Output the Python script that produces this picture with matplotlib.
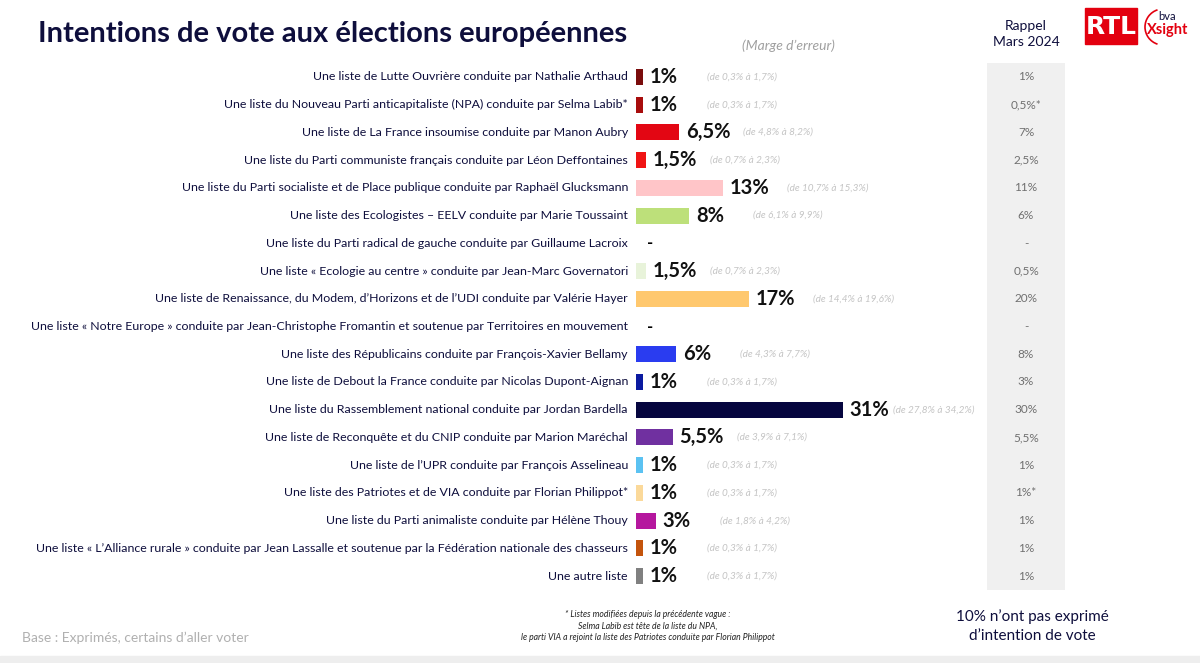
import matplotlib.pyplot as plt
from matplotlib.patches import Rectangle, Arc

plt.rcParams['font.family'] = ['Lato', 'DejaVu Sans']

labels = [
    "Une liste de Lutte Ouvrière conduite par Nathalie Arthaud",
    "Une liste du Nouveau Parti anticapitaliste (NPA) conduite par Selma Labib*",
    "Une liste de La France insoumise conduite par Manon Aubry",
    "Une liste du Parti communiste français conduite par Léon Deffontaines",
    "Une liste du Parti socialiste et de Place publique conduite par Raphaël Glucksmann",
    "Une liste des Ecologistes – EELV conduite par Marie Toussaint",
    "Une liste du Parti radical de gauche conduite par Guillaume Lacroix",
    "Une liste « Ecologie au centre » conduite par Jean-Marc Governatori",
    "Une liste de Renaissance, du Modem, d’Horizons et de l’UDI conduite par Valérie Hayer",
    "Une liste « Notre Europe » conduite par Jean-Christophe Fromantin et soutenue par Territoires en mouvement",
    "Une liste des Républicains conduite par François-Xavier Bellamy",
    "Une liste de Debout la France conduite par Nicolas Dupont-Aignan",
    "Une liste du Rassemblement national conduite par Jordan Bardella",
    "Une liste de Reconquête et du CNIP conduite par Marion Maréchal",
    "Une liste de l’UPR conduite par François Asselineau",
    "Une liste des Patriotes et de VIA conduite par Florian Philippot*",
    "Une liste du Parti animaliste conduite par Hélène Thouy",
    "Une liste « L’Alliance rurale » conduite par Jean Lassalle et soutenue par la Fédération nationale des chasseurs",
    "Une autre liste",
]
values = [1, 1, 6.5, 1.5, 13, 8, None, 1.5, 17, None, 6, 1, 31, 5.5, 1, 1, 3, 1, 1]
value_text = ["1%", "1%", "6,5%", "1,5%", "13%", "8%", "-", "1,5%", "17%", "-",
              "6%", "1%", "31%", "5,5%", "1%", "1%", "3%", "1%", "1%"]
margins = ["(de 0,3% à 1,7%)", "(de 0,3% à 1,7%)", "(de 4,8% à 8,2%)", "(de 0,7% à 2,3%)",
           "(de 10,7% à 15,3%)", "(de 6,1% à 9,9%)", "", "(de 0,7% à 2,3%)",
           "(de 14,4% à 19,6%)", "", "(de 4,3% à 7,7%)", "(de 0,3% à 1,7%)",
           "(de 27,8% à 34,2%)", "(de 3,9% à 7,1%)", "(de 0,3% à 1,7%)", "(de 0,3% à 1,7%)",
           "(de 1,8% à 4,2%)", "(de 0,3% à 1,7%)", "(de 0,3% à 1,7%)"]
rappel = ["1%", "0,5%*", "7%", "2,5%", "11%", "6%", "-", "0,5%", "20%", "-",
          "8%", "3%", "30%", "5,5%", "1%", "1%*", "1%", "1%", "1%"]
colors = ["#7a0c0c", "#a80d0d", "#e30613", "#f01414", "#ffc5c8", "#bde07a", "#ffffff",
          "#e8f3da", "#ffc86e", "#ffffff", "#2a3cf0", "#0b1aa0", "#06063f", "#7030a0",
          "#5bc2f2", "#fbd99a", "#b5179e", "#c4540c", "#808080"]

W, H = 1200, 663
fig = plt.figure(figsize=(12, 6.63), dpi=100)

def fx(x):
    return x / W

def fy(y):
    return 1 - y / H

navy = "#0e0e3c"

# bar area
top, bottom = 63, 590
ax = fig.add_axes([fx(636), fy(bottom), fx(1200 - 636), (bottom - top) / H])
n = len(labels)
px_per_pct = 6.67
ax.set_xlim(0, (1200 - 636) / px_per_pct)
ax.set_ylim(n - 0.5, -0.5)
ax.axis('off')
for i in range(n):
    ax.text(-1.2, i, labels[i], ha='right', va='center', fontsize=8.95, color=navy)
    v = values[i]
    if v is None:
        ax.text(1.6, i, value_text[i], ha='left', va='center', fontsize=12,
                fontweight='bold', color='black')
        continue
    ax.barh(i, v, height=0.58, color=colors[i])
    t = ax.text(v + 1.0, i, value_text[i], ha='left', va='center', fontsize=14.5,
                fontweight='bold', color='#111111')
    if v < 30:
        ax.text(v + 9.6, i, margins[i], ha='left', va='center', fontsize=7.2,
                style='italic', color='#c4c4c4')
    else:
        ax.annotate(margins[i], xy=(1, 0.5), xycoords=t, xytext=(3, 0),
                    textcoords='offset points', ha='left', va='center', fontsize=7.2,
                    style='italic', color='#c4c4c4')

# rappel column
ax2 = fig.add_axes([fx(987), fy(bottom), fx(1065 - 987), (bottom - top) / H])
ax2.set_xlim(0, 1)
ax2.set_ylim(n - 0.5, -0.5)
ax2.set_facecolor('#f0f0f0')
for s in ax2.spines.values():
    s.set_visible(False)
ax2.set_xticks([])
ax2.set_yticks([])
for i in range(n):
    ax2.text(0.5, i, rappel[i], ha='center', va='center', fontsize=8.5, color='#707070')

# titles and notes
fig.text(fx(38), fy(34), "Intentions de vote aux élections européennes", fontsize=21,
         fontweight='bold', color=navy, va='center', ha='left')
fig.text(fx(788), fy(46), "(Marge d’erreur)", fontsize=10, style='italic',
         color='#a0a0a0', ha='center', va='center')
fig.text(fx(1026), fy(34), "Rappel\nMars 2024", fontsize=10, color=navy,
         ha='center', va='center', linespacing=1.3)
fig.text(fx(22), fy(638), "Base : Exprimés, certains d’aller voter", fontsize=10,
         color='#b0b0b0', ha='left', va='center')
fig.text(fx(648), fy(626), "* Listes modifiées depuis la précédente vague :\n"
         "Selma Labib est tête de la liste du NPA,\n"
         "le parti VIA a rejoint la liste des Patriotes conduite par Florian Philippot",
         fontsize=6.2, style='italic', color='#222222', ha='center', va='center',
         linespacing=1.4)
fig.text(fx(1032), fy(626), "10% n’ont pas exprimé\nd’intention de vote", fontsize=11,
         color=navy, ha='center', va='center', linespacing=1.4)

# logos
fig.patches.append(Rectangle((fx(1085), fy(44)), fx(52), 36 / H, transform=fig.transFigure,
                             color='#e3000f'))
fig.text(fx(1111), fy(27), "RTL", fontsize=18, fontweight='bold', color='white',
         ha='center', va='center', family=['Liberation Sans Narrow', 'DejaVu Sans'])
fig.patches.append(Arc((fx(1163), fy(27)), 36 / W, 36 / H, theta1=100, theta2=260,
                       transform=fig.transFigure, color='#e3000f', lw=1.2))
fig.text(fx(1158), fy(16), "bva", fontsize=8, color=navy, ha='left', va='center')
fig.text(fx(1147), fy(30), "Xsight", fontsize=10.5, fontweight='bold', color='#e3000f',
         ha='left', va='center')

# bottom frame hint
fig.patches.append(Rectangle((0, 0), 1, 7 / H, transform=fig.transFigure, color='#eeeeee'))

fig.savefig("out.png", dpi=100)
